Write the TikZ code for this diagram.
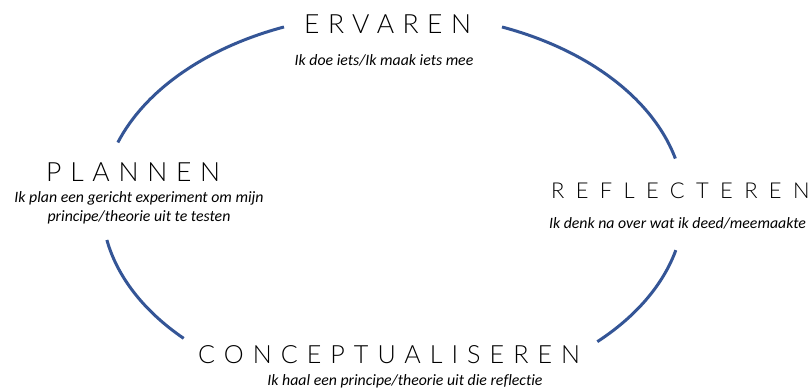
\documentclass[tikz,border=0pt]{standalone}
\usepackage{fontspec}
\setmainfont{Carlito}[Ligatures=NoCommon]
\newfontfamily\tfA{Lato Light}[LetterSpace=32]
\newfontfamily\tfP{Lato Light}[LetterSpace=33]
\newfontfamily\tfB{Lato Light}[LetterSpace=36]
\newfontfamily\tfC{Lato Light}[LetterSpace=52]
\definecolor{arcblue}{RGB}{52,85,150}
\begin{document}
\begin{tikzpicture}[x=1pt,y=1pt,
  title/.style={anchor=base west,inner sep=0pt},
  sub/.style={anchor=base,inner sep=0pt,font=\itshape\fontsize{15.8}{19}\selectfont},
  cyc/.style={draw=arcblue,line width=3pt},
  ell/.style={x radius=291,y radius=192}]
\useasboundingbox (0,0) rectangle (812,390);
% labels
\node[title,font=\tfA\fontsize{26.5}{30}\selectfont] (erv) at (304,356.7) {ERVAREN};
\node[sub] (ervs) at (384,324) {Ik doe iets/Ik maak iets mee};
\node[title,font=\tfP\fontsize{26.5}{30}\selectfont] (pla) at (46,208.3) {PLANNEN};
\node[sub] (plas1) at (139,187) {Ik plan een gericht experiment om mijn};
\node[sub] (plas2) at (139,168) {principe/theorie uit te testen};
\node[title,font=\tfC\fontsize{21.9}{26}\selectfont] (ref) at (551,191.7) {REFLECTEREN};
\node[sub] (refs) at (677.5,161) {Ik denk na over wat ik deed/meemaakte};
\node[title,font=\tfB\fontsize{25.1}{29}\selectfont] (con) at (198,26.7) {CONCEPTUALISEREN};
\node[sub] (cons) at (405,4) {Ik haal een principe/theorie uit die reflectie};
% arcs of the cycle (ellipse centre (393,185), radii 291 x 192)
\coordinate (c) at (393,185);
\coordinate (a1) at ([shift={(161:291 and 192)}]c);
\coordinate (a2) at ([shift={(68:291 and 192)}]c);
\coordinate (a3) at ([shift={(-13.6:291 and 192)}]c);
\coordinate (a4) at ([shift={(190.5:291 and 192)}]c);
\draw[cyc] (a1) arc[ell,start angle=161,end angle=112];
\draw[cyc] (a2) arc[ell,start angle=68,end angle=14];
\draw[cyc] (a3) arc[ell,start angle=-13.6,end angle=-45.4];
\draw[cyc] (a4) arc[ell,start angle=190.5,end angle=224];
\end{tikzpicture}
\end{document}
